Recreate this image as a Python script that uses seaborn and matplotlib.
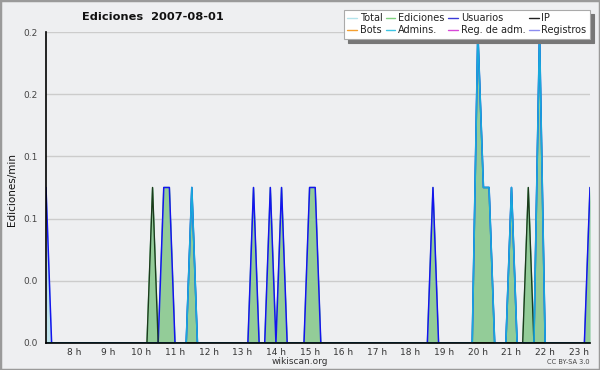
import numpy as np
import pandas as pd
import matplotlib
matplotlib.use("Agg")
import matplotlib.pyplot as plt
from matplotlib.lines import Line2D
from matplotlib.patches import Rectangle
import seaborn as sns

# ---------------- data (10-minute slots, edits per minute) ----------------
start_slot = "07:10"
end_slot = "23:20"

total_times = ["07:10", "10:20", "10:40", "10:50", "11:30", "13:20", "13:50", "14:10",
               "15:00", "15:10", "18:40", "20:00", "20:10", "20:20", "21:00", "21:30",
               "21:50", "23:20"]
total_vals = [0.1, 0.1, 0.1, 0.1, 0.1, 0.1, 0.1, 0.1,
              0.1, 0.1, 0.1, 0.2, 0.1, 0.1, 0.1, 0.1,
              0.2, 0.1]

ediciones_times = ["10:20", "10:40", "10:50", "11:30", "13:20", "13:50", "14:10",
                   "15:00", "15:10", "18:40", "20:00", "20:10", "20:20", "21:00", "21:30",
                   "21:50", "23:20"]
ediciones_vals = [0.1, 0.1, 0.1, 0.1, 0.1, 0.1, 0.1,
                  0.1, 0.1, 0.1, 0.2, 0.1, 0.1, 0.1, 0.1,
                  0.2, 0.1]

usuarios_times = ["07:10", "10:40", "10:50", "11:30", "13:20", "13:50", "14:10",
                  "15:00", "15:10", "18:40", "20:00", "20:10", "20:20", "21:00",
                  "21:50", "23:20"]
usuarios_vals = [0.1, 0.1, 0.1, 0.1, 0.1, 0.1, 0.1,
                 0.1, 0.1, 0.1, 0.2, 0.1, 0.1, 0.1,
                 0.2, 0.1]

ip_times = ["10:20", "21:30"]
ip_vals = [0.1, 0.1]

admins_times = ["11:30", "20:00", "20:10", "20:20", "21:00", "21:50"]
admins_vals = [0.1, 0.2, 0.1, 0.1, 0.1, 0.2]

y_ticks = [0.0, 0.04, 0.08, 0.12, 0.16, 0.20]
y_tick_labels = ["0.0", "0.0", "0.1", "0.1", "0.2", "0.2"]
x_hours = [8, 9, 10, 11, 12, 13, 14, 15, 16, 17, 18, 19, 20, 21, 22, 23]
x_tick_labels = [f"{h} h" for h in x_hours]

legend_labels = ["Total", "Ediciones", "Usuarios", "IP",
                 "Bots", "Admins.", "Reg. de adm.", "Registros"]
legend_colors = ["#b4e4ec", "#7fd17f", "#3a3ad8", "#222222",
                 "#f5a030", "#3cc4e4", "#d848d8", "#8c8cf0"]

# ---------------- build series ----------------
def to_h(s):
    h, m = s.split(":")
    return int(h) + int(m) / 60.0

slots = pd.date_range("2007-08-01 " + start_slot, "2007-08-01 " + end_slot, freq="10min")
slot_str = [t.strftime("%H:%M") for t in slots]
hours = np.array([to_h(s) for s in slot_str])

def series(times, vals):
    d = dict(zip(times, vals))
    return np.array([d.get(s, 0.0) for s in slot_str])

df = pd.DataFrame({
    "hour": hours,
    "Total": series(total_times, total_vals),
    "Ediciones": series(ediciones_times, ediciones_vals),
    "Usuarios": series(usuarios_times, usuarios_vals),
    "IP": series(ip_times, ip_vals),
    "Admins": series(admins_times, admins_vals),
})

# ---------------- style ----------------
sns.set_style("white")
plt.rcParams["font.family"] = ["DejaVu Sans"]
bg = "#eeeff1"

fig = plt.figure(figsize=(6.0, 3.7), dpi=100, facecolor=bg)
ax = fig.add_axes([46 / 600, 27 / 370, 544 / 600, 311 / 370])
ax.set_facecolor(bg)

# fills
ax.fill_between(df["hour"], 0, df["Total"], color="#bfe3ea", lw=0, zorder=1)
ax.fill_between(df["hour"], 0, df["Ediciones"], color="#93cc98", lw=0, zorder=2)

# lines
sns.lineplot(data=df, x="hour", y="Total", ax=ax, color="#b4e4ec", lw=0.9, zorder=3)
sns.lineplot(data=df, x="hour", y="Ediciones", ax=ax, color="#7fd17f", lw=0.9, zorder=4)
sns.lineplot(data=df, x="hour", y="Usuarios", ax=ax, color="#1414ee", lw=1.1, zorder=5)
sns.lineplot(data=df, x="hour", y="IP", ax=ax, color="#1c3a1c", lw=1.0, zorder=6)
sns.lineplot(data=df, x="hour", y="Admins", ax=ax, color="#18a8dc", lw=1.2, zorder=7)

ax.set_xlim(hours[0], hours[-1])
ax.set_ylim(0, 0.2)

ax.set_yticks(y_ticks)
ax.set_yticklabels(y_tick_labels)
ax.set_yticks(np.arange(0, 0.2001, 0.01), minor=True)
ax.set_xticks(x_hours)
ax.set_xticklabels(x_tick_labels)
ax.set_xticks(np.arange(hours[0], hours[-1] + 0.01, 1 / 6), minor=True)

ax.tick_params(axis="both", which="both", direction="out", color="black", width=1)
ax.tick_params(axis="y", which="major", length=5, labelsize=6.5, labelcolor="#444444", pad=1)
ax.tick_params(axis="y", which="minor", length=4)
ax.tick_params(axis="x", which="major", length=4, labelsize=6.5, labelcolor="#333333", pad=-0.5)
ax.tick_params(axis="x", which="minor", length=4)

ax.grid(axis="y", which="major", color="#cccccc", lw=1)
ax.set_axisbelow(True)
for s in ["top", "right"]:
    ax.spines[s].set_visible(False)
for s in ["left", "bottom"]:
    ax.spines[s].set_color("black")
    ax.spines[s].set_linewidth(1.2)
    ax.spines[s].set_zorder(10)
ax.set_xlabel("")
ax.set_ylabel("")

# texts
fig.text(153 / 600, 1 - 17 / 370, "Ediciones  2007-08-01", ha="center", va="center",
         fontsize=8.2, fontweight="bold", color="#111111")
fig.text(12 / 600, 1 - 190 / 370, "Ediciones/min", rotation=90, ha="center", va="center",
         fontsize=7.5, color="#111111")
fig.text(300 / 600, 1 - 362 / 370, "wikiscan.org", ha="center", va="center",
         fontsize=6.5, color="#333333")
fig.text(590 / 600, 1 - 362 / 370, "CC BY-SA 3.0", ha="right", va="center",
         fontsize=4.8, color="#444444")

# legend
handles = [Line2D([0], [0], color=c, lw=1) for c in legend_colors]
order = [0, 4, 1, 5, 2, 6, 3, 7]
leg = fig.legend([handles[i] for i in order], [legend_labels[i] for i in order],
                 ncol=4, loc="upper right", bbox_to_anchor=(590 / 600, 1 - 10 / 370),
                 fontsize=7, frameon=True, fancybox=False,
                 shadow={"color": "#777777", "alpha": 1.0, "ox": 3, "oy": -3},
                 handlelength=1.0, handletextpad=0.3, columnspacing=0.35,
                 labelspacing=0.2, borderpad=0.35, borderaxespad=0)
leg.get_frame().set_facecolor("white")
leg.get_frame().set_edgecolor("#aaaaaa")
leg.get_frame().set_linewidth(0.8)
for t in leg.get_texts():
    t.set_color("#222222")

# figure border
fig.patches.append(Rectangle((0, 0), 1, 1, transform=fig.transFigure, fill=False,
                             edgecolor="#9a9a9a", lw=2.5, zorder=10))

fig.savefig("out.png", dpi=100, facecolor=bg)
